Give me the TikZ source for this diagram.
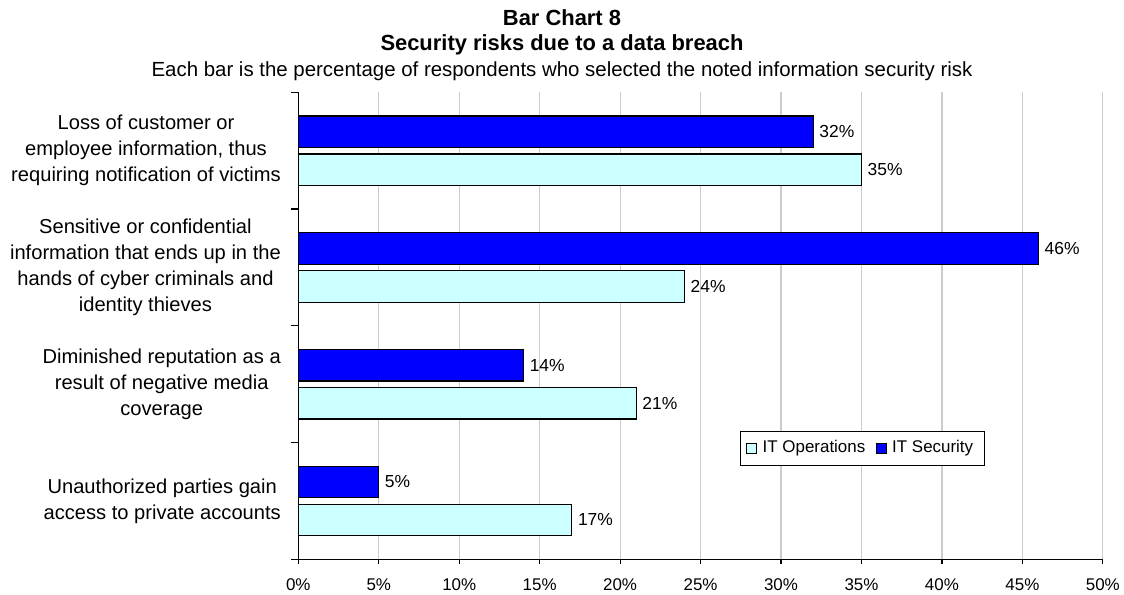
\documentclass[tikz,border=0pt]{standalone}
\usepackage{fontspec}
\setmainfont{Liberation Sans}

\definecolor{secblue}{HTML}{0000FF}
\definecolor{opscyan}{HTML}{CCFFFF}
\definecolor{gridgray}{HTML}{CCCCCC}

\tikzset{
    bar/.style={draw=black, line width=1.3bp},
    gridline/.style={draw=gridgray, line width=1.2bp},
    axisline/.style={draw=black, line width=1.2bp},
    ticklabel/.style={font=\fontsize{17}{20}\selectfont, inner sep=0pt},
    barlabel/.style={font=\fontsize{17.5}{20}\selectfont, anchor=west, inner sep=0pt},
    catlabel/.style={font=\fontsize{20.2}{26}\selectfont, align=center, anchor=east, inner sep=0pt},
    keylabel/.style={font=\fontsize{17}{20}\selectfont, anchor=west, inner sep=0pt},
}

\begin{document}
\begin{tikzpicture}[x=1bp,y=1bp]
    \useasboundingbox[fill=white] (0,0) rectangle (1124,595);

    \node[font=\bfseries\fontsize{22}{24}\selectfont] (title) at (562,577) {Bar Chart 8};
    \node[font=\bfseries\fontsize{22}{24}\selectfont] (subtitle) at (562,550) {Security risks due to a data breach};
    \node[font=\fontsize{20.5}{24}\selectfont] (note) at (562,524) {Each bar is the percentage of respondents who selected the noted information security risk};

    \begin{scope}[shift={(298.3,35.7)}, x=16.09bp, y=116.75bp]
        \foreach \p in {5,10,...,50}
            \draw[gridline] (\p,0) -- (\p,4);

        \foreach \sec/\ops [count=\i from 0] in {32/35,46/24,14/21,5/17} {
            \pgfmathsetmacro{\yc}{3.5-\i}
            \filldraw[bar, fill=secblue] (0,\yc+0.0277) rectangle (\sec,\yc+0.2977);
            \filldraw[bar, fill=opscyan] (0,\yc-0.2977) rectangle (\ops,\yc-0.0277);
            \node[barlabel, xshift=6bp] (sec\i) at (\sec,\yc+0.1627) {\sec\%};
            \node[barlabel, xshift=6bp] (ops\i) at (\ops,\yc-0.1627) {\ops\%};
        }

        \foreach \lab [count=\i from 0] in {
            {Loss of customer or\\employee information, thus\\requiring notification of victims},
            {Sensitive or confidential\\information that ends up in the\\hands of cyber criminals and\\identity thieves},
            {Diminished reputation as a\\result of negative media\\coverage},
            {Unauthorized parties gain\\access to private accounts}} {
            \pgfmathsetmacro{\yc}{3.5-\i}
            \node[catlabel, xshift=-17.3bp] (cat\i) at (0,\yc) {\lab};
        }

        \draw[axisline] (0,0) -- (0,4);
        \draw[axisline] (0,0) -- (50,0);
        \foreach \c in {0,...,4}
            \draw[axisline] (0,\c) -- ++(-7bp,0);
        \foreach \p in {0,5,...,50} {
            \draw[axisline] (\p,0) -- ++(0,-4.5bp);
            \node[ticklabel, yshift=-25.7bp] (tick\p) at (\p,0) {\p\%};
        }
    \end{scope}

    \filldraw[draw=black, fill=white, line width=1bp] (740,129.3) rectangle (984.3,163.3);
    \filldraw[draw=black, fill=opscyan, line width=1bp] (746.5,141.5) rectangle (756.5,151.5);
    \node[keylabel] (opskey) at (762.5,146.5) {IT Operations};
    \filldraw[draw=black, fill=secblue, line width=1bp] (876,141.5) rectangle (886,151.5);
    \node[keylabel] (seckey) at (892,146.5) {IT Security};
\end{tikzpicture}
\end{document}
